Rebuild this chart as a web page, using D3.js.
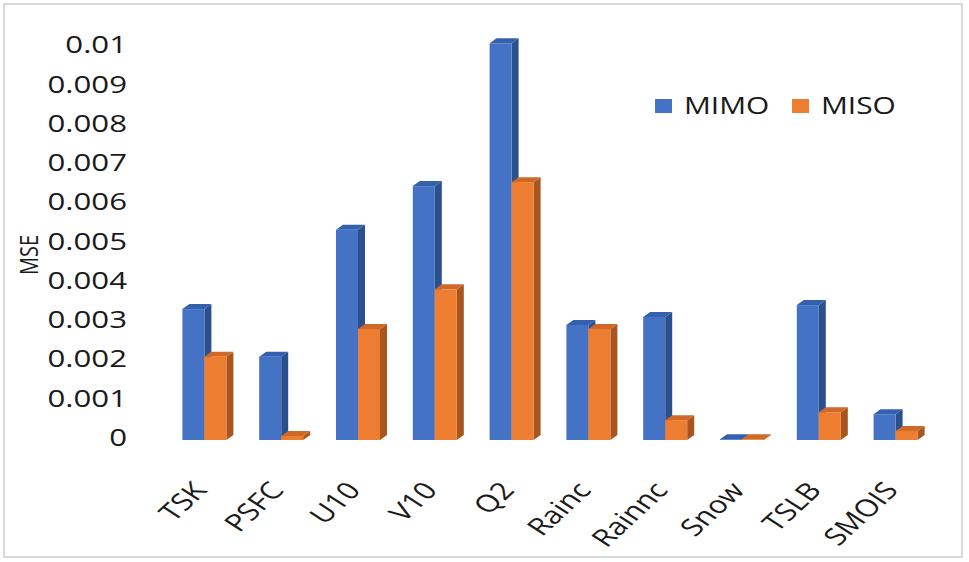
<!DOCTYPE html>
<html>
<head>
<meta charset="utf-8">
<script src="https://cdn.jsdelivr.net/npm/d3@7"></script>
<style>
html,body{margin:0;padding:0;background:#fff;}
svg{display:block;font-family:"Open Sans",sans-serif;}
</style>
</head>
<body>
<svg id="chart" width="969" height="562"></svg>
<script>
const categories = ["TSK","PSFC","U10","V10","Q2","Rainc","Rainnc","Snow","TSLB","SMOIS"];
const seriesNames = ["MIMO","MISO"];
const mimoValues = [0.0033,0.0021,0.0053,0.0064,0.01,0.0029,0.0031,0.00002,0.0034,0.00065];
const misoValues = [0.0021,0.0001,0.0028,0.0038,0.0065,0.0028,0.0005,0.00002,0.0007,0.00023];
const yTicks = [0,0.001,0.002,0.003,0.004,0.005,0.006,0.007,0.008,0.009,0.01];
const yTickLabels = ["0","0.001","0.002","0.003","0.004","0.005","0.006","0.007","0.008","0.009","0.01"];
const yTitle = "MSE";

const colors = {
  MIMO:{front:"#4472C4", side:"#2C4F8E", top:"#3560AC"},
  MISO:{front:"#ED7D31", side:"#A8561E", top:"#D06826"}
};
const SX = 1.3; // horizontal text stretch
const svg = d3.select("#chart");

svg.append("rect").attr("x",4).attr("y",4).attr("width",958).attr("height",553)
  .attr("fill","#fff").attr("stroke","#d9d9d9").attr("stroke-width",2);

const x0 = d3.scaleBand().domain(categories).range([166,934]).paddingInner(0.427).paddingOuter(0.2135);
const x1 = d3.scaleBand().domain(seriesNames).range([0,x0.bandwidth()]);
const y = d3.scaleLinear().domain([0,0.01]).range([440,43.3]);
const yLab = d3.scaleLinear().domain([0,0.01]).range([436.5,44]);
const dx = 7, dy = 5;

const data = [];
seriesNames.forEach((s,si)=>{
  const vals = si===0 ? mimoValues : misoValues;
  categories.forEach((c,i)=>data.push({s, c, v: vals[i]}));
});

const g = svg.append("g");
const bars = g.selectAll("g.bar").data(data).join("g").attr("class","bar");
bars.each(function(d){
  const el = d3.select(this);
  const xl = x0(d.c) + x1(d.s), w = x1.bandwidth();
  const yt = y(d.v), yb = y(0);
  const col = colors[d.s];
  el.append("path").attr("fill",col.side)
    .attr("d",`M${xl+w},${yb}L${xl+w+dx},${yb-dy}L${xl+w+dx},${yt-dy}L${xl+w},${yt}Z`);
  el.append("path").attr("fill",col.top)
    .attr("d",`M${xl},${yt}L${xl+dx},${yt-dy}L${xl+w+dx},${yt-dy}L${xl+w},${yt}Z`);
  el.append("rect").attr("x",xl).attr("y",yt).attr("width",w).attr("height",Math.max(0,yb-yt))
    .attr("fill",col.front);
});

// y labels
svg.append("g").selectAll("text").data(yTicks).join("text")
  .attr("transform",d=>`translate(127,${yLab(d)}) scale(${SX},1)`)
  .attr("text-anchor","end").attr("dominant-baseline","central")
  .attr("font-size",24).attr("fill","#1a1a1a")
  .text((d,i)=>yTickLabels[i]);

// y title
svg.append("text").attr("transform",`translate(38,255) scale(${SX},1) rotate(-90)`)
  .attr("text-anchor","middle").attr("font-size",20).attr("fill","#1a1a1a").text(yTitle);

// x labels
svg.append("g").selectAll("text").data(categories).join("text")
  .attr("transform",d=>`translate(${x0(d)+x0.bandwidth()/2+4},491) scale(${SX},1) rotate(-50)`)
  .attr("text-anchor","end").attr("font-size",24).attr("fill","#1a1a1a")
  .text(d=>d);

// legend
const legendX = [655, 792];
const leg = svg.append("g").selectAll("g").data(seriesNames).join("g")
  .attr("transform",(d,i)=>`translate(${legendX[i]},99)`);
leg.append("rect").attr("width",17).attr("height",14).attr("fill",d=>colors[d].front);
leg.append("text").attr("transform",`translate(29,14.5) scale(${SX},1)`)
  .attr("font-size",23).attr("fill","#1a1a1a").text(d=>d);
</script>
</body>
</html>
